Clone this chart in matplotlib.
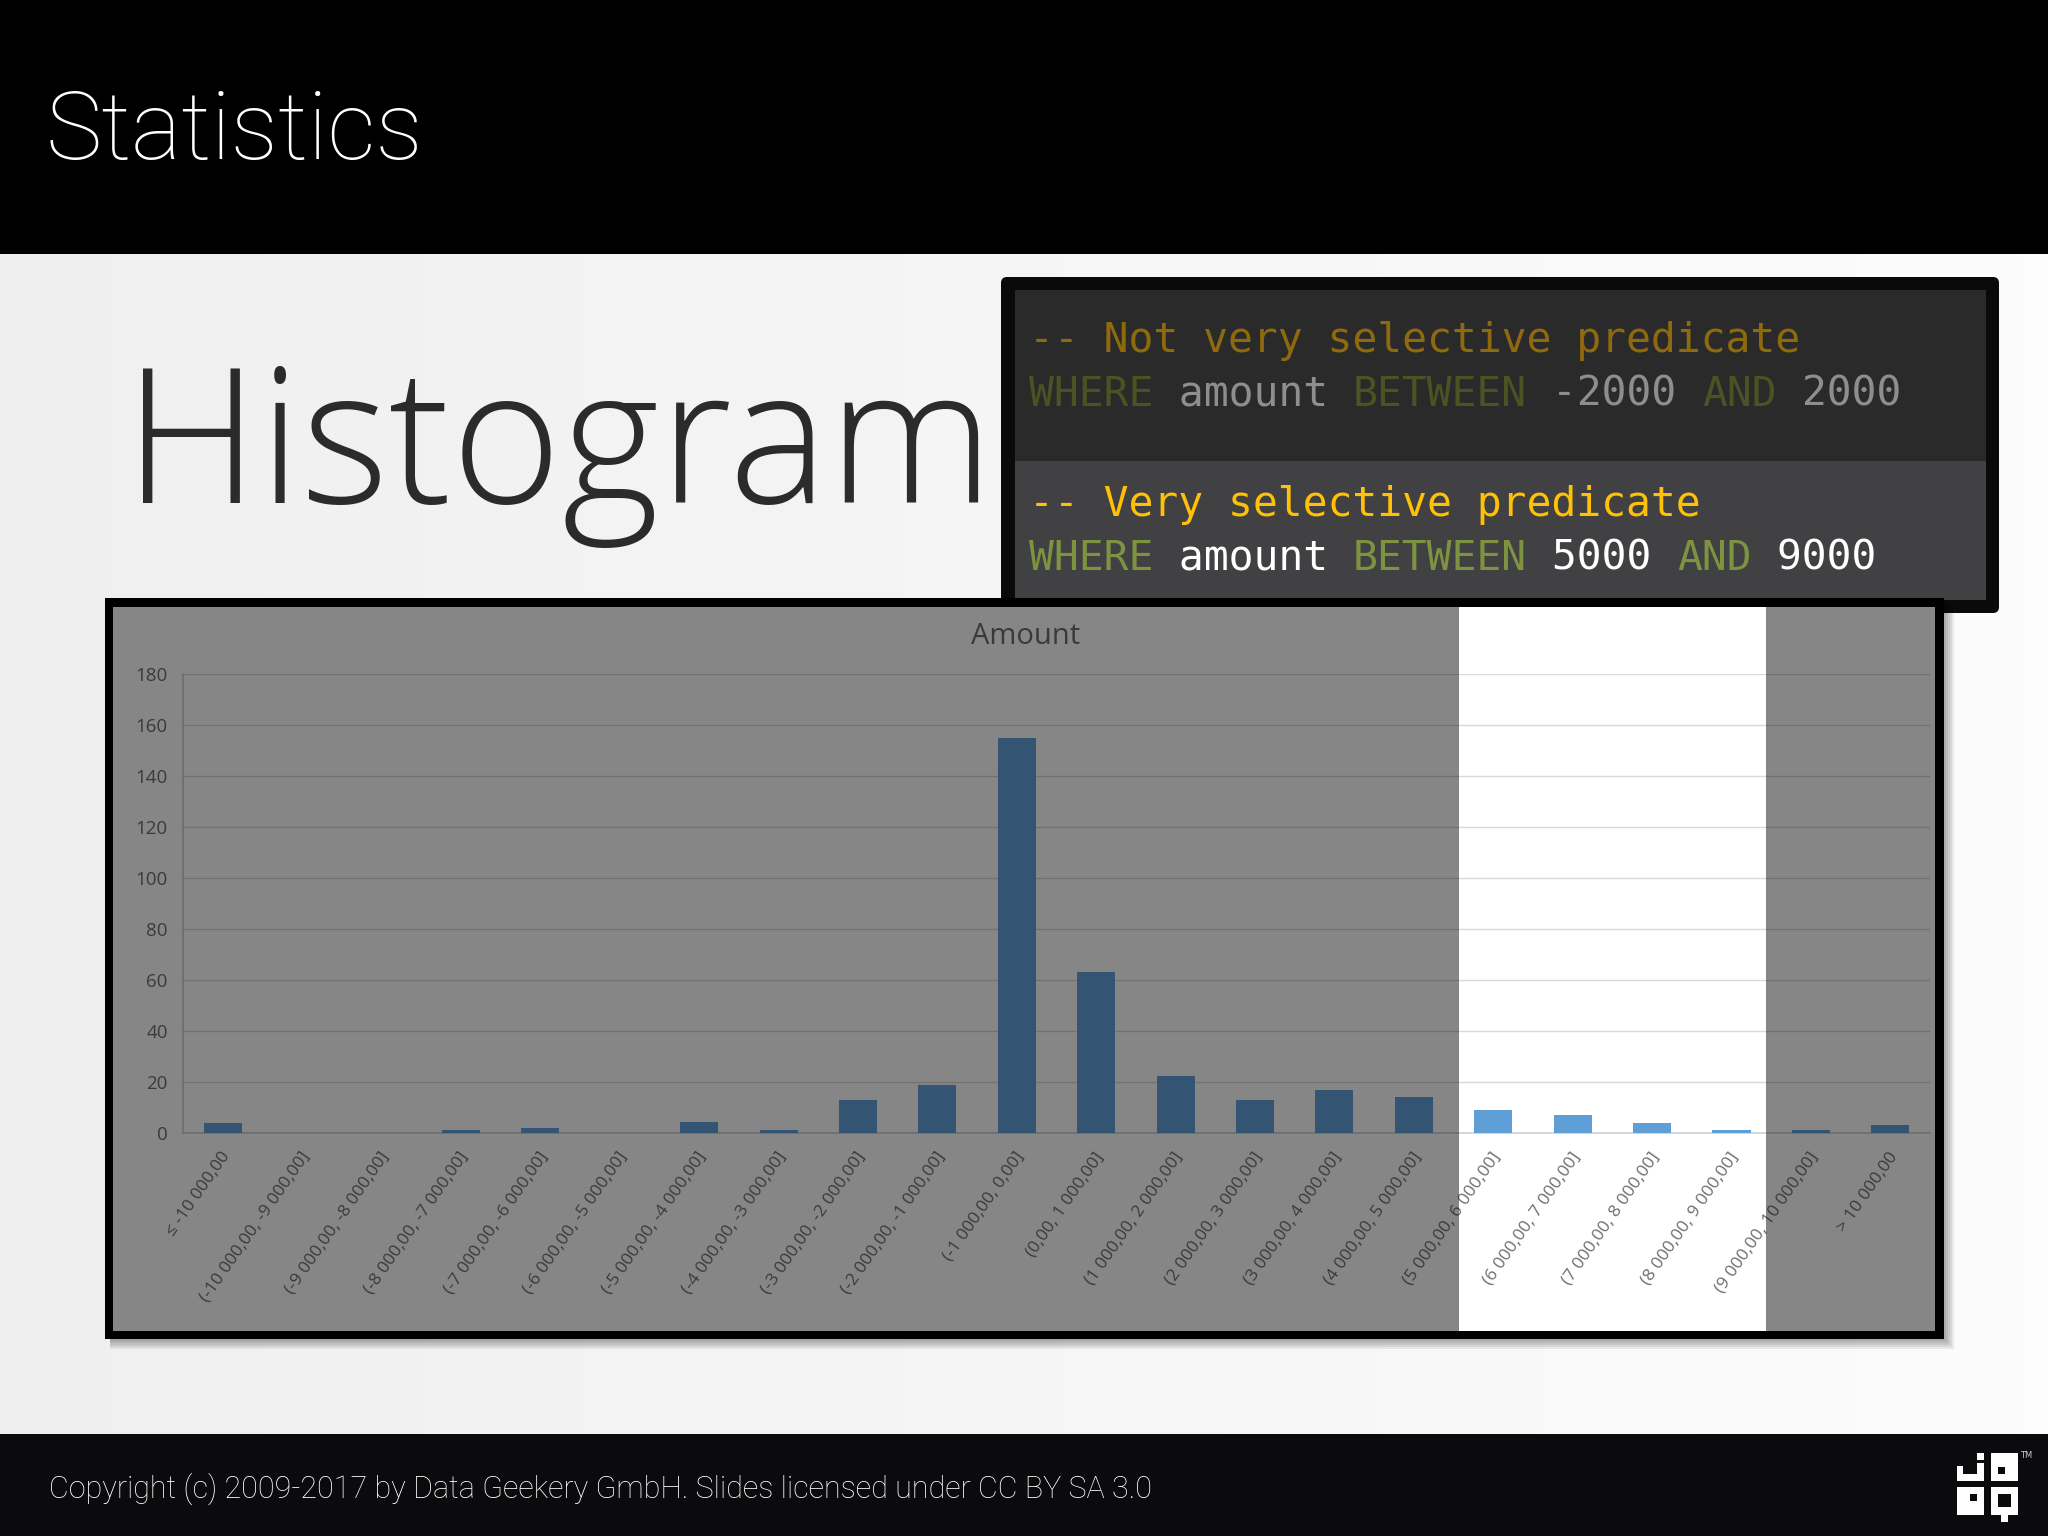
import numpy as np
import matplotlib
matplotlib.use("Agg")
import matplotlib.pyplot as plt
from matplotlib.patches import Rectangle, FancyBboxPatch
from matplotlib.transforms import ScaledTranslation

# Histogram data
bin_labels = ["≤ -10 000,00", "(-10 000,00, -9 000,00]", "(-9 000,00, -8 000,00]",
              "(-8 000,00, -7 000,00]", "(-7 000,00, -6 000,00]", "(-6 000,00, -5 000,00]",
              "(-5 000,00, -4 000,00]", "(-4 000,00, -3 000,00]", "(-3 000,00, -2 000,00]",
              "(-2 000,00, -1 000,00]", "(-1 000,00, 0,00]", "(0,00, 1 000,00]",
              "(1 000,00, 2 000,00]", "(2 000,00, 3 000,00]", "(3 000,00, 4 000,00]",
              "(4 000,00, 5 000,00]", "(5 000,00, 6 000,00]", "(6 000,00, 7 000,00]",
              "(7 000,00, 8 000,00]", "(8 000,00, 9 000,00]", "(9 000,00, 10 000,00]",
              "> 10 000,00"]
counts = [4, 0, 0, 1, 2, 0, 4.5, 1, 13, 19, 155, 63, 22.5, 13, 17, 14, 9, 7, 4, 1, 1, 3]
y_ticks = [0, 20, 40, 60, 80, 100, 120, 140, 160, 180]

# Code box text: (text, kind) per line
dim_colors = {"c": "#8f6a0c", "k": "#4b5323", "t": "#8e8e8e"}
lit_colors = {"c": "#ffc107", "k": "#7d9340", "t": "#ffffff"}
code_dim = [[("-- Not very selective predicate", "c")],
            [("WHERE", "k"), (" amount ", "t"), ("BETWEEN", "k"), (" -2000 ", "t"), ("AND", "k"), (" 2000", "t")]]
code_lit = [[("-- Very selective predicate", "c")],
            [("WHERE", "k"), (" amount ", "t"), ("BETWEEN", "k"), (" 5000 ", "t"), ("AND", "k"), (" 9000", "t")]]

W, H = 2048, 1536
fig = plt.figure(figsize=(20.48, 15.36), dpi=100)

# Slide background, pixel coordinates
bg = fig.add_axes([0, 0, 1, 1], zorder=0)
bg.axis("off")
grad = np.linspace(0.935, 0.985, 256).reshape(1, -1)
bg.imshow(grad, cmap="gray", vmin=0, vmax=1, extent=[0, W, H, 0], aspect="auto", interpolation="bilinear")
bg.set_xlim(0, W)
bg.set_ylim(H, 0)
bg.add_patch(Rectangle((0, 0), W, 254, color="#000000", lw=0))
bg.add_patch(Rectangle((0, 1434), W, 102, color="#0b0b0d", lw=0))
bg.text(45, 133, "Statistics", color="white", fontsize=68.3, family="Roboto", weight="light", va="center")
bg.text(124, 454, "Histogram", color="#2b2b2b", fontsize=135, family="Open Sans", weight="light", va="center")
bg.text(49, 1489, "Copyright (c) 2009-2017 by Data Geekery GmbH. Slides licensed under CC BY SA 3.0",
        color="#ffffff", fontsize=22, family="Roboto", weight="light", va="center")

# Code box
bg.add_patch(FancyBboxPatch((1005, 281), 990, 328, boxstyle="round,pad=4,rounding_size=6", color="#0a0a0b", lw=0))
bg.add_patch(Rectangle((1015, 290), 971, 171, color="#2a2a2b", lw=0))
bg.add_patch(Rectangle((1015, 461), 971, 139, color="#414042", lw=0))


def draw_code(lines, colors, ys):
    char_w = 24.92
    for segs, y in zip(lines, ys):
        x = 1029
        for txt, kind in segs:
            bg.text(x, y, txt.replace(" ", "\u00a0"), color=colors[kind], fontsize=29.8,
                    family="DejaVu Sans Mono", va="center", ha="left")
            x += len(txt) * char_w


draw_code(code_dim, dim_colors, [341, 395])
draw_code(code_lit, lit_colors, [505, 559])

# Chart panel, soft shadow first
for grow in [0, 2, 4, 6, 8, 10]:
    bg.add_patch(Rectangle((110, 604), 1834 + grow, 735 + grow, color="#000000", alpha=0.07, lw=0))
bg.add_patch(Rectangle((105, 598), 1839, 741, color="#000000", lw=0))
bg.add_patch(Rectangle((113, 607), 1822, 724, color="#ffffff", lw=0))

# Logo
logo_white = [(1957, 1466, 27, 15), (1977, 1453, 7, 7), (1977, 1463, 7, 18),
              (1991, 1453, 27, 28), (1957, 1487, 27, 28), (1991, 1487, 27, 28), (2001, 1515, 7, 7)]
logo_black = [(1963, 1466, 14, 8), (1998, 1467, 7, 7), (1970, 1494, 7, 7), (1998, 1494, 13, 13)]
for x, y, w, h in logo_white:
    bg.add_patch(Rectangle((x, y), w, h, color="white", lw=0))
for x, y, w, h in logo_black:
    bg.add_patch(Rectangle((x, y), w, h, color="#0b0b0d", lw=0))
bg.text(2026, 1456, "TM", color="#cccccc", fontsize=6, va="center", ha="center")

# Chart
ax = fig.add_axes([183 / W, 1 - 1133 / H, 1747 / W, 459 / H], zorder=1)
ax.patch.set_alpha(0)
x = np.arange(len(counts))
ax.bar(x, counts, width=0.48, color="#5f9fd8", zorder=3)
ax.set_xlim(-0.5, len(counts) - 0.5)
ax.set_ylim(0, 180)
ax.set_yticks(y_ticks)
ax.set_xticks(x)
ax.set_xticklabels(bin_labels)
ax.grid(axis="y", color="#d9d9d9", lw=1.0, zorder=0)
for s in ["top", "right"]:
    ax.spines[s].set_visible(False)
for s in ["left", "bottom"]:
    ax.spines[s].set_color("#d0d0d0")
    ax.spines[s].set_linewidth(1.2)
ax.tick_params(axis="both", length=0, labelcolor="#6e6e6e")
ax.tick_params(axis="y", labelsize=13.5, pad=11)
ax.tick_params(axis="x", labelsize=12.5, pad=15)
shift = ScaledTranslation(3 / 72, 0, fig.dpi_scale_trans)
for lab in ax.get_yticklabels():
    lab.set_family("Open Sans")
for lab in ax.get_xticklabels():
    lab.set_family("Open Sans")
    lab.set_rotation(55)
    lab.set_rotation_mode("anchor")
    lab.set_ha("right")
    lab.set_va("center")
    lab.set_transform(lab.get_transform() + shift)
ax.text(1026, 636, "Amount", color="#6e6e6e", fontsize=21, family="Open Sans", ha="center", va="center",
        transform=bg.transData)

# Dimming over the non selected range
over = fig.add_axes([0, 0, 1, 1], zorder=2)
over.set_xlim(0, W)
over.set_ylim(H, 0)
over.axis("off")
over.patch.set_alpha(0)
over.add_patch(Rectangle((113, 607), 1346, 724, color="#030103", alpha=0.475, lw=0))
over.add_patch(Rectangle((1766, 607), 169, 724, color="#030103", alpha=0.475, lw=0))

fig.savefig("out.png", dpi=100)
